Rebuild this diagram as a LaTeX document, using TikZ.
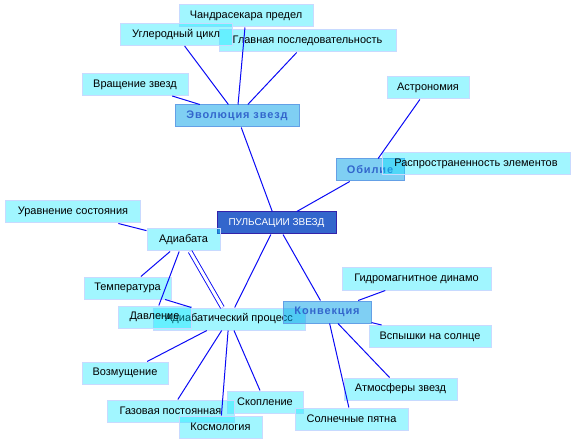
\documentclass[tikz,border=0pt]{standalone}
\usepackage{fontspec}
\setmainfont{Liberation Sans}
\newfontfamily\hubfont[LetterSpace=8]{Liberation Sans}
\usepackage{xcolor}
\usepackage{tikz}
\usetikzlibrary{positioning}

\definecolor{leaffill}{RGB}{0,230,255}
\definecolor{leafline}{RGB}{200,218,255}
\definecolor{hubfill}{RGB}{0,160,232}
\definecolor{hubline}{RGB}{100,160,230}
\definecolor{hubtext}{RGB}{51,102,204}
\definecolor{rootfill}{RGB}{51,102,204}
\definecolor{rootline}{RGB}{51,34,170}
\definecolor{linkblue}{RGB}{10,10,245}

\begin{document}
\begin{tikzpicture}[
    x=1bp,y=-1bp,
    every node/.style={font=\fontsize{11}{13}\selectfont,inner sep=0pt,minimum height=22bp},
    leaf/.style={draw=leafline,line width=1bp,fill=leaffill,fill opacity=0.37,text opacity=1},
    hub/.style ={draw=hubline,line width=1bp,fill=hubfill,fill opacity=0.5,text opacity=1,
                 text=hubtext,font=\hubfont\bfseries\fontsize{11}{13}\selectfont},
    root/.style={draw=rootline,line width=1bp,fill=rootfill,text=white,
                 font=\fontsize{10}{12}\selectfont},
    link/.style={linkblue,line width=1bp},
  ]
  \useasboundingbox (0,0) rectangle (576,444);

  % central topic
  \node[root,minimum width=119bp] (puls) at (276.5,223) {ПУЛЬСАЦИИ ЗВЕЗД};

  % evolution branch
  \node[leaf,minimum width=134bp] (chandra)  at (246,16)    {Чандрасекара предел};
  \node[leaf,minimum width=177bp] (mainseq)  at (307.5,41)  {Главная последовательность};
  \node[leaf,minimum width=112bp] (carbon)   at (176,34.5)  {Углеродный цикл};
  \node[leaf,minimum width=106bp] (rotation) at (135,84.5)  {Вращение звезд};
  \node[hub, minimum width=124bp] (evol)     at (237,116)   {Эволюция звезд};

  % abundance branch
  \node[leaf,minimum width=82bp]  (astro)    at (428,88)    {Астрономия};
  \node[hub, minimum width=68bp]  (abund)    at (370,170)   {Обилие};
  \node[leaf,minimum width=188bp] (spread)   at (476,164)   {Распространенность элементов};

  % adiabatic branch
  \node[leaf,minimum width=134bp] (eqstate)  at (73,212)    {Уравнение состояния};
  \node[leaf,minimum width=73bp]  (adiab)    at (183.5,240) {Адиабата};
  \node[leaf,minimum width=87bp]  (temper)   at (127.5,288) {Температура};
  \node[leaf,minimum width=152bp] (adproc)   at (229,319)   {Адиабатический процесс};
  \node[leaf,minimum width=73bp]  (press)    at (154.5,317) {Давление};
  \node[leaf,minimum width=86bp]  (perturb)  at (125,373)   {Возмущение};
  \node[leaf,minimum width=76bp]  (cluster)  at (265,402)   {Скопление};
  \node[leaf,minimum width=127bp] (gasconst) at (170.5,411) {Газовая постоянная};
  \node[leaf,minimum width=83bp]  (cosmo)    at (220.5,427) {Космология};

  % convection branch
  \node[hub, minimum width=88bp]  (conv)     at (327,312)   {Конвекция};
  \node[leaf,minimum width=149bp] (dynamo)   at (416.5,279) {Гидромагнитное динамо};
  \node[leaf,minimum width=122bp] (flares)   at (430,336.5) {Вспышки на солнце};
  \node[leaf,minimum width=113bp] (atmos)    at (400.5,389) {Атмосферы звезд};
  \node[leaf,minimum width=113bp] (spots)    at (351.5,419) {Солнечные пятна};

  % connectors
  \foreach \a/\b in {carbon/evol, chandra/evol, mainseq/evol, rotation/evol,
                     evol/puls, puls/abund, astro/abund,
                     eqstate/adiab, adiab/temper, adiab/press, temper/adproc,
                     puls/adproc, puls/conv,
                     adproc/perturb, adproc/gasconst, adproc/cosmo, adproc/cluster,
                     conv/dynamo, conv/flares, conv/atmos, conv/spots} {
     \draw[link] (\a) -- (\b);
  }
  \draw[link,double=white,double distance=3bp,line width=0.9bp] (adiab) -- (adproc);
\end{tikzpicture}
\end{document}
